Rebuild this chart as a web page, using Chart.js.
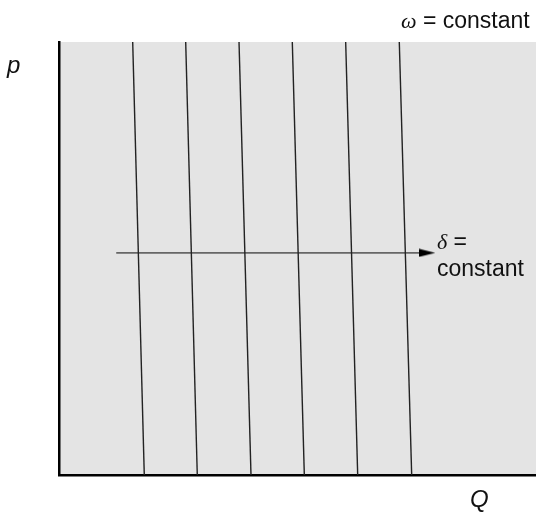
<!DOCTYPE html>
<html>
<head>
<meta charset="utf-8">
<script src="https://cdn.jsdelivr.net/npm/chart.js@4.4.1/dist/chart.umd.min.js"></script>
<style>
  html, body { margin: 0; padding: 0; background: #ffffff; }
  #wrap { width: 536px; height: 512px; position: relative; }
</style>
</head>
<body>
<div id="wrap"><canvas id="c" width="536" height="512"></canvas></div>
<script>
// Constant-omega lines: x position (Q units, 0..100) at the top (p=100) and bottom (p=0)
const lineTopQ    = [15.45, 26.56, 37.74, 48.91, 60.10, 71.34];
const lineBottomQ = [17.88, 28.99, 40.25, 51.43, 62.62, 73.94];
const pTop = 100;
const pBottom = 0;
// Constant-delta arrow
const arrowQ = [12.0, 77.2];
const arrowP = 51.3;
// Text labels
const yAxisLabel = 'p';
const xAxisLabel = 'Q';
const omegaLabel = ['ω', ' = constant'];
const deltaLabel = ['δ', ' =', 'constant'];

// Arrowhead image
const head = document.createElement('canvas');
head.width = 16; head.height = 9;
(function () {
  const g = head.getContext('2d');
  g.fillStyle = '#000';
  g.beginPath();
  g.moveTo(0, 0.5); g.lineTo(16, 4.5); g.lineTo(0, 8.5); g.closePath();
  g.fill();
})();

const datasets = [];
lineTopQ.forEach((q, i) => {
  datasets.push({
    data: [{x: lineBottomQ[i], y: pBottom}, {x: q, y: pTop}],
    showLine: true,
    borderColor: '#222222',
    borderWidth: 1.4,
    pointRadius: 0,
    fill: false
  });
});
datasets.push({
  data: [{x: arrowQ[0], y: arrowP}, {x: arrowQ[1], y: arrowP}],
  showLine: true,
  borderColor: '#666666',
  borderWidth: 1.6,
  pointRadius: [0, 8],
  pointStyle: [false, head],
  fill: false
});

const bgPlugin = {
  id: 'bg',
  beforeDraw(chart) {
    const {ctx, chartArea: a} = chart;
    ctx.save();
    ctx.fillStyle = '#e4e4e4';
    ctx.fillRect(a.left, a.top, a.right - a.left, a.bottom - a.top);
    ctx.restore();
  }
};

const textPlugin = {
  id: 'texts',
  afterDraw(chart) {
    const {ctx} = chart;
    ctx.save();
    ctx.fillStyle = '#111';
    ctx.textBaseline = 'alphabetic';
    ctx.textAlign = 'left';
    // p label
    ctx.font = 'italic 24px "Liberation Sans", Arial, sans-serif';
    ctx.fillText(yAxisLabel, 7, 73);
    // Q label
    ctx.fillText(xAxisLabel, 470, 507);
    // omega = constant
    ctx.font = 'italic 22px "Liberation Serif", "Times New Roman", serif';
    ctx.fillText(omegaLabel[0], 401, 28);
    let w = ctx.measureText(omegaLabel[0]).width;
    ctx.font = '23px "Liberation Sans", Arial, sans-serif';
    ctx.fillText(omegaLabel[1], 401 + w, 28);
    // delta =
    ctx.font = 'italic 22px "Liberation Serif", "Times New Roman", serif';
    ctx.fillText(deltaLabel[0], 437, 249);
    w = ctx.measureText(deltaLabel[0]).width;
    ctx.font = '23px "Liberation Sans", Arial, sans-serif';
    ctx.fillText(deltaLabel[1], 437 + w, 249);
    ctx.fillText(deltaLabel[2], 437, 276);
    ctx.restore();
  }
};

const axisCommon = {
  type: 'linear',
  display: true,
  min: 0,
  max: 100,
  ticks: { display: false },
  grid: { display: true, drawOnChartArea: false, drawTicks: false, color: 'rgba(0,0,0,0)' },
  border: { display: true, color: '#000000', width: 2.5 }
};

new Chart(document.getElementById('c'), {
  type: 'scatter',
  data: { datasets },
  options: {
    responsive: false,
    animation: false,
    layout: { autoPadding: false, padding: { left: 59, top: 42, right: 0, bottom: 37 } },
    plugins: { legend: { display: false }, tooltip: { enabled: false } },
    scales: {
      x: Object.assign({}, axisCommon),
      y: Object.assign({}, axisCommon)
    }
  },
  plugins: [bgPlugin, textPlugin]
});
</script>
</body>
</html>
